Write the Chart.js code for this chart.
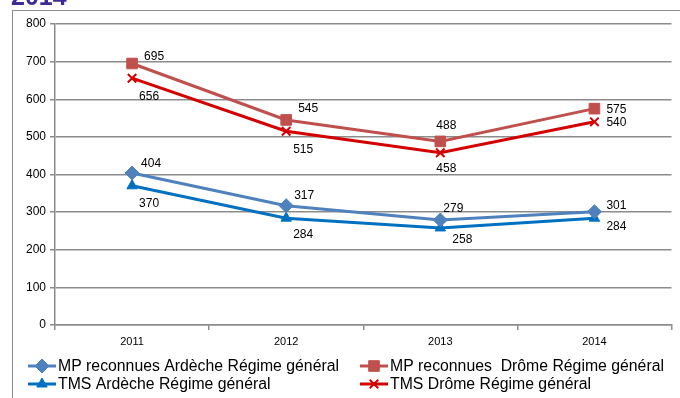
<!DOCTYPE html>
<html>
<head>
<meta charset="utf-8">
<script src="https://cdn.jsdelivr.net/npm/chart.js@4.4.1/dist/chart.umd.min.js"></script>
<style>
  html, body { margin: 0; padding: 0; background: #fff; }
  #wrap { position: relative; width: 680px; height: 398px; overflow: hidden; }
  #frame { position: absolute; left: 12px; top: 10px; width: 700px; height: 420px;
           border-left: 1.5px solid #8c8c8c; border-top: 1.5px solid #8c8c8c; }
  canvas { position: absolute; left: 0; top: 0; }
</style>
</head>
<body>
<div id="wrap">
  <div id="frame"></div>
  <canvas id="myChart" width="680" height="398"></canvas>
</div>
<script>
const years = ['2011', '2012', '2013', '2014']
const mpArdeche = [404, 317, 279, 301]
const tmsArdeche = [370, 284, 258, 284]
const mpDrome = [695, 545, 488, 575]
const tmsDrome = [656, 515, 458, 540]
const yTicks = [0, 100, 200, 300, 400, 500, 600, 700, 800]

// where each value label sits relative to its point (dx, dy), same order as the datasets
const labelPos = [
  [[9, -9], [8, -10], [3, -11], [12, -6]],     // MP Ardèche
  [[12, -7], [12, -11], [-4, -16], [12, 1]],   // MP Drôme
  [[7, 18], [7, 17], [12, 12], [12, 9]],       // TMS Ardèche
  [[7, 19], [7, 18], [-4, 16], [12, 1]]        // TMS Drôme
]

const extras = {
  id: 'extras',
  afterDraw(chart) {
    const ctx = chart.ctx
    ctx.save()
    // cut-off title
    ctx.fillStyle = '#3b2d95'
    ctx.font = 'bold 25px "Liberation Sans", Arial, sans-serif'
    ctx.textBaseline = 'alphabetic'
    ctx.textAlign = 'left'
    ctx.fillText('2014', 11, 5)

    // value labels
    ctx.fillStyle = '#000'
    ctx.font = '12px "Liberation Sans", Arial, sans-serif'
    ctx.textBaseline = 'middle'
    chart.data.datasets.forEach((ds, i) => {
      const meta = chart.getDatasetMeta(i)
      meta.data.forEach((pt, j) => {
        const off = labelPos[i][j]
        ctx.fillText(ds.data[j], pt.x + off[0], pt.y + off[1])
      })
    })

    // legend, two columns
    const cols = [28, 360]
    const rows = [366, 384]
    ctx.font = '15.8px "Liberation Sans", Arial, sans-serif'
    chart.data.datasets.forEach((ds, i) => {
      const x = cols[i % 2], y = rows[Math.floor(i / 2)]
      ctx.strokeStyle = ds.borderColor
      ctx.lineWidth = 3
      ctx.beginPath()
      ctx.moveTo(x, y)
      ctx.lineTo(x + 28, y)
      ctx.stroke()
      ctx.fillStyle = ds.pointBackgroundColor
      ctx.strokeStyle = ds.pointBorderColor
      ctx.lineWidth = ds.pointBorderWidth
      Chart.helpers.drawPoint(ctx, {pointStyle: ds.pointStyle, radius: ds.pointRadius, borderWidth: ds.pointBorderWidth}, x + 14, y)
      ctx.fillStyle = '#000'
      ctx.fillText(ds.label, x + 30, y + 1)
    })
    ctx.restore()
  }
}

new Chart('myChart', {
  type: 'line',
  data: {
    labels: years,
    datasets: [
      {label: 'MP reconnues Ardèche Régime général', data: mpArdeche, borderColor: '#4f81bd',
       pointStyle: 'rectRot', pointRadius: 7, pointBackgroundColor: '#4f81bd', pointBorderColor: '#4f81bd', pointBorderWidth: 1},
      {label: 'MP reconnues  Drôme Régime général', data: mpDrome, borderColor: '#c0504d',
       pointStyle: 'rect', pointRadius: 7.5, pointBackgroundColor: '#c0504d', pointBorderColor: '#c0504d', pointBorderWidth: 1},
      {label: 'TMS Ardèche Régime général', data: tmsArdeche, borderColor: '#0070c0',
       pointStyle: 'triangle', pointRadius: 6, pointBackgroundColor: '#0070c0', pointBorderColor: '#0070c0', pointBorderWidth: 1},
      {label: 'TMS Drôme Régime général', data: tmsDrome, borderColor: '#d40000',
       pointStyle: 'crossRot', pointRadius: 6, pointBackgroundColor: '#d40000', pointBorderColor: '#d40000', pointBorderWidth: 2}
    ].map(d => Object.assign(d, {borderWidth: 3, tension: 0, fill: false}))
  },
  options: {
    responsive: false,
    animation: false,
    events: [],
    layout: {padding: {top: 24, right: 4, bottom: 48, left: 0}},
    plugins: {legend: {display: false}, tooltip: {enabled: false}},
    scales: {
      x: {
        offset: true,
        grid: {offset: true, drawOnChartArea: false, tickLength: 5, color: '#8c8c8c', lineWidth: 1.5},
        border: {color: '#8c8c8c', width: 1.5},
        ticks: {color: '#000', font: {size: 11, family: '"Liberation Sans", Arial, sans-serif'}, padding: 5, maxRotation: 0},
        afterFit: s => { s.height = 25 }
      },
      y: {
        min: 0, max: 800,
        afterBuildTicks: s => { s.ticks = yTicks.map(v => ({value: v})) },
        grid: {color: '#8c8c8c', lineWidth: 1.5, tickLength: 5},
        border: {color: '#8c8c8c', width: 1.5},
        ticks: {color: '#000', font: {size: 12, family: '"Liberation Sans", Arial, sans-serif'}, padding: 4},
        afterFit: s => { s.width = 55 }
      }
    }
  },
  plugins: [extras]
})
</script>
</body>
</html>
